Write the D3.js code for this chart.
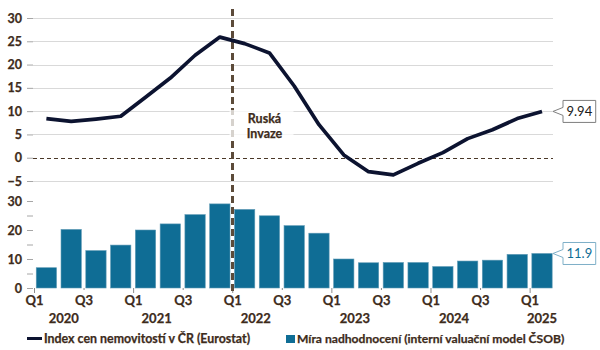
<!DOCTYPE html>
<html>
<head>
<meta charset="utf-8">
<script src="https://cdn.jsdelivr.net/npm/d3@7"></script>
<style>
  html, body { margin: 0; padding: 0; background: #ffffff; }
  svg { display: block; }
  text { font-family: Lato, "Open Sans", sans-serif; }
  .heavy { stroke: #3d2b1b; stroke-width: 0.25px; paint-order: stroke; }
</style>
</head>
<body>
<svg id="chart" width="600" height="350"></svg>
<script>
// Quarterly periods shown on the x axis
const quarters = [
  "2020Q1","2020Q2","2020Q3","2020Q4",
  "2021Q1","2021Q2","2021Q3","2021Q4",
  "2022Q1","2022Q2","2022Q3","2022Q4",
  "2023Q1","2023Q2","2023Q3","2023Q4",
  "2024Q1","2024Q2","2024Q3","2024Q4",
  "2025Q1"
];
// Index cen nemovitostí v ČR (Eurostat), y/y %
const priceIndex = [8.4, 7.8, 8.3, 8.9, 13.0, 17.1, 22.0, 25.9, 24.5, 22.5, 15.4, 7.1,
                    0.6, -3.0, -3.7, -1.2, 1.1, 4.1, 6.0, 8.4, 9.94];
// Míra nadhodnocení (interní valuační model ČSOB), %
const overvaluation = [7.0, 20.2, 12.9, 14.8, 20.0, 22.1, 25.3, 29.0, 27.1, 24.9, 21.5, 18.9,
                       10.0, 8.7, 8.8, 8.8, 7.4, 9.3, 9.6, 11.6, 11.9];
// Axis tick labels
const topTicks = [30, 25, 20, 15, 10, 5, 0, -5];
const bottomTicks = [0, 5, 10, 15, 20, 25, 30];
const bottomLabelled = [0, 10, 20, 30];
const quarterTickLabels = ["Q1", "Q3"];
const years = ["2020", "2021", "2022", "2023", "2024", "2025"];
const eventQuarter = "2022Q1";
const eventLabel = ["Ruská", "Invaze"];
const legendLabels = ["Index cen nemovitostí v ČR (Eurostat)",
                      "Míra nadhodnocení (interní valuační model ČSOB)"];

const TEXT = "#3d2b1b";
const LINE = "#0c1330";
const BAR = "#0f6d95";
const GRID = "#d9d9d9";

const svg = d3.select("#chart");
const left = 34, right = 554.4, gridRight = 553;

// Shared horizontal scales: bands for bars, linear quarter index for ticks
const x = d3.scaleBand().domain(quarters).range([left, right])
  .paddingInner(0.18).paddingOuter(0.09);
const xq = d3.scaleLinear().domain([0, quarters.length]).range([left, right]);
const xc = q => x(q) + x.bandwidth() / 2;

const yTop = d3.scaleLinear().domain([-5, 30]).range([181, 18]);
const yBot = d3.scaleLinear().domain([0, 30]).range([288, 201]);

// ---- Top panel: gridlines + axis ----
const topAxis = svg.append("g").attr("transform", `translate(${left - 1},0)`)
  .call(d3.axisLeft(yTop).tickValues(topTicks).tickSize(6).tickPadding(5).tickFormat(d3.format("d")));
topAxis.select(".domain").remove();
topAxis.selectAll(".tick line").attr("stroke", "#a6a6a6");
topAxis.selectAll(".tick text").attr("fill", TEXT).attr("font-size", 12.5).attr("font-weight", 700)
  .attr("class", "heavy");

svg.append("g").selectAll("line").data(topTicks.filter(d => d !== 0)).join("line")
  .attr("x1", left - 1).attr("x2", gridRight)
  .attr("y1", d => Math.round(yTop(d)) + 0.5).attr("y2", d => Math.round(yTop(d)) + 0.5)
  .attr("stroke", GRID).attr("stroke-width", 1);

// zero reference
svg.append("line")
  .attr("x1", left - 1).attr("x2", gridRight)
  .attr("y1", Math.round(yTop(0)) + 0.5).attr("y2", Math.round(yTop(0)) + 0.5)
  .attr("stroke", "#4a3828").attr("stroke-width", 1).attr("stroke-dasharray", "4,3");

// ---- Bottom panel: bars + axis ----
const botAxis = svg.append("g").attr("transform", `translate(${left - 1},0)`)
  .call(d3.axisLeft(yBot).tickValues(bottomTicks).tickSize(6).tickPadding(5)
    .tickFormat(d => bottomLabelled.includes(d) ? d3.format("d")(d) : ""));
botAxis.select(".domain").remove();
botAxis.selectAll(".tick line").attr("stroke", "#a6a6a6");
botAxis.selectAll(".tick text").attr("fill", TEXT).attr("font-size", 12.5).attr("font-weight", 700)
  .attr("class", "heavy");

svg.append("g").selectAll("rect").data(quarters).join("rect")
  .attr("x", d => x(d)).attr("width", x.bandwidth())
  .attr("y", (d, i) => yBot(overvaluation[i]))
  .attr("height", (d, i) => yBot(0) - yBot(overvaluation[i]))
  .attr("fill", BAR).attr("stroke", "#5f9ab5").attr("stroke-width", 0.6);

// ---- X axis: quarter ticks at period starts ----
const qIdx = d3.range(0, quarters.length, 2);
const xAxis = svg.append("g").attr("transform", `translate(0,${yBot(0)})`)
  .call(d3.axisBottom(xq).tickValues(qIdx).tickSize(0).tickPadding(8)
    .tickFormat(i => quarterTickLabels[(i / 2) % 2]));
xAxis.select(".domain").remove();
xAxis.selectAll(".tick text").attr("fill", TEXT).attr("font-size", 13).attr("font-weight", 700)
  .attr("class", "heavy");
xAxis.selectAll(".tick").append("line")
  .attr("y1", 0).attr("y2", i => (i % 4 === 0) ? 5 : 2)
  .attr("stroke", "#8c8c8c");

// Year labels under each year's quarters
svg.append("g").selectAll("text").data(years).join("text")
  .attr("x", (y, k) => {
    const first = quarters.indexOf(y + "Q1");
    const n = quarters.filter(q => q.startsWith(y)).length;
    const off = n === 1 ? x.step() / 2 : (k === 0 ? x.step() * 1.2 : x.step() * 0.95);
    return xq(first) + off;
  })
  .attr("y", 323).attr("text-anchor", "middle")
  .attr("fill", TEXT).attr("font-size", 13).attr("font-weight", 700).attr("class", "heavy")
  .text(d => d);

// ---- Event marker ----
const ex = Math.round(xq(quarters.indexOf(eventQuarter))) + 0.5;
svg.append("line").attr("x1", ex).attr("x2", ex).attr("y1", 9).attr("y2", 292)
  .attr("stroke", "#5c4b3a").attr("stroke-width", 3).attr("stroke-dasharray", "7,4");

// ---- Price index line ----
const line = d3.line().x((d, i) => xc(quarters[i])).y(d => yTop(d));
svg.append("path").datum(priceIndex).attr("d", line)
  .attr("fill", "none").attr("stroke", LINE).attr("stroke-width", 3.7)
  .attr("stroke-linejoin", "round");

// Event annotation with a soft white backing
svg.append("rect").attr("x", ex - 3).attr("y", 110).attr("width", 64).attr("height", 31)
  .attr("fill", "#ffffff").attr("opacity", 0.75);
svg.append("g").selectAll("text").data(eventLabel).join("text")
  .attr("x", ex + 32).attr("y", (d, i) => 122.5 + i * 15)
  .attr("text-anchor", "middle").attr("fill", TEXT)
  .attr("font-size", 12.5).attr("font-weight", 700).attr("class", "heavy").text(d => d);

// ---- Value callouts ----
function callout(tipX, cy, label, color, border) {
  const g = svg.append("g");
  const t = g.append("text").attr("y", cy + 4.5).attr("font-size", 13)
    .attr("fill", color).text(label);
  const w = t.node().getComputedTextLength() + 7;
  const bx = tipX + 10, h = 22;
  t.attr("x", bx + 3.5);
  g.insert("path", "text")
    .attr("d", `M${bx},${cy - h / 2}H${bx + w}V${cy + h / 2}H${bx}V${cy + 4}L${tipX},${cy}L${bx},${cy - 4}Z`)
    .attr("fill", "#ffffff").attr("stroke", border).attr("stroke-width", 1);
}
const last = quarters.length - 1;
callout(xc(quarters[last]) + 11, yTop(priceIndex[last]), d3.format(".2f")(priceIndex[last]), "#1a1a1a", "#7f7f7f");
callout(xc(quarters[last]) + 11, yBot(overvaluation[last]), d3.format(".1f")(overvaluation[last]), BAR, "#7fb0c8");

// ---- Legend ----
const lg = svg.append("g");
lg.append("line").attr("x1", 27).attr("x2", 42).attr("y1", 338.5).attr("y2", 338.5)
  .attr("stroke", LINE).attr("stroke-width", 3);
lg.append("text").attr("x", 44).attr("y", 343).attr("font-size", 12.4).attr("font-weight", 700)
  .attr("fill", TEXT).attr("class", "heavy").text(legendLabels[0]);
lg.append("rect").attr("x", 286).attr("y", 335).attr("width", 9).attr("height", 8).attr("fill", BAR);
lg.append("text").attr("x", 297).attr("y", 343).attr("font-size", 12.1).attr("font-weight", 700)
  .attr("fill", TEXT).attr("class", "heavy").text(legendLabels[1]);
</script>
</body>
</html>
